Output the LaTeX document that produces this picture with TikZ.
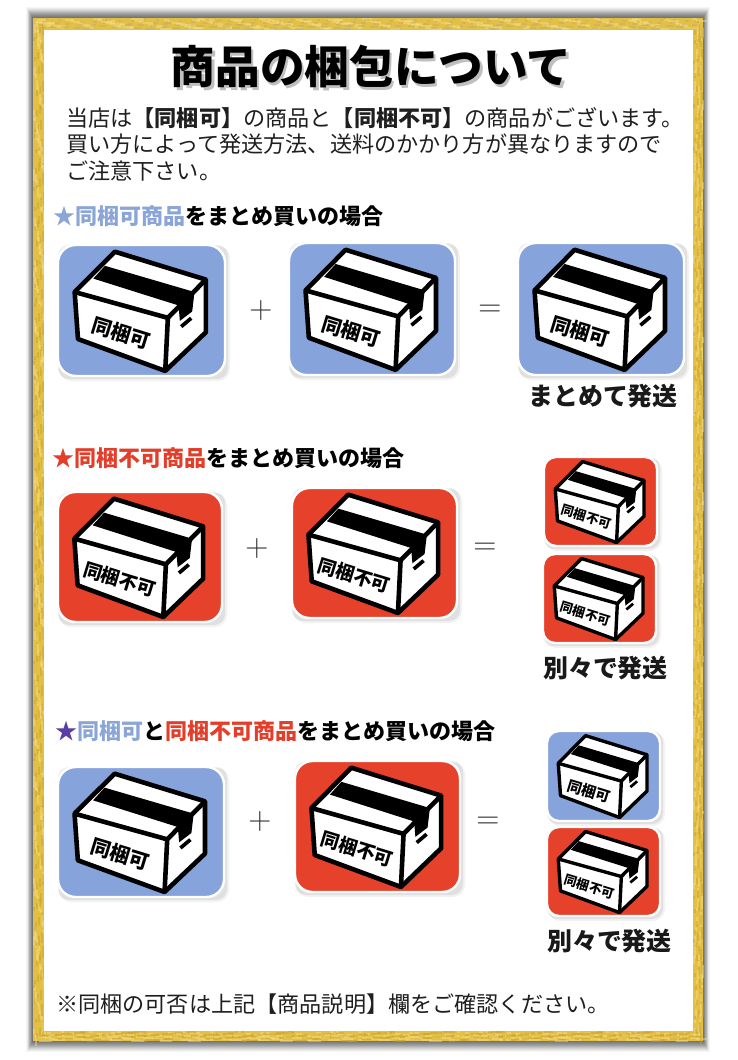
\documentclass[tikz,border=0pt]{standalone}
\usepackage{fontspec}
\newfontfamily\jp{Noto Sans CJK JP}
\definecolor{tileblue}{HTML}{86A3DB}
\definecolor{tilered}{HTML}{E5412B}
\definecolor{headblue}{HTML}{8AA5D6}
\definecolor{headred}{HTML}{E23E2A}
\definecolor{headpurple}{HTML}{5A3EA6}
\definecolor{golda}{HTML}{E3C043}
\definecolor{goldb}{HTML}{F3DF8C}
\definecolor{goldc}{HTML}{C7A02E}
\definecolor{goldd}{HTML}{BFA96E}
\newcommand{\fs}[1]{\fontsize{#1}{#1}\selectfont}
\tikzset{
  x=0.75pt,y=-0.75pt,
  bodytext/.style={font=\jp\fs{16.6},anchor=west,inner sep=0pt,text=black!88},
  headtext/.style={font=\jp\bfseries\fs{16.5},anchor=west,inner sep=0pt,text=black},
  captext/.style={font=\jp\bfseries\fs{18.7},anchor=center,inner sep=0pt,text=black!90},
  symtext/.style={font=\normalfont\fs{24},anchor=center,inner sep=0pt,text=black!80},
  fleck/.style={opacity=.45},
}
% #1 name, #2 x, #3 y, #4 width, #5 height, #6 colour, #7 label, #8 label size (pt), #9 line width (px)
\newcommand{\pkgbox}[9]{%
  \fill[black,opacity=.05,rounded corners=9pt] (#2+1,#3+1) rectangle (#2+#4+5,#3+#5+5);
  \fill[black,opacity=.07,rounded corners=8pt] (#2,#3) rectangle (#2+#4+3,#3+#5+3);
  \draw[white,line width=1.8pt,fill=#6,rounded corners=#4*0.08pt] (#2,#3) rectangle (#2+#4,#3+#5);
  \begin{scope}[shift={(#2,#3)},x={#4*0.0015pt},y={-#5*0.0019231pt},line join=round,line width=#9*0.75pt]
    \fill[white,draw=black] (171,20) -- (444,103) -- (444,260) -- (322,375) -- (60,280) -- (50,140) -- cycle;
    \draw (50,140) -- (330,217) -- (444,103);
    \draw (330,217) -- (322,375);
    \fill[black] (106,100) -- (141,62) -- (410,140) -- (403,198) -- (366,226) -- (362,180) -- cycle;
    \draw[line width=#9*0.6pt] (370,243) -- (400,218);
    \node[font=\jp\bfseries\fs{#8},rotate=-17,inner sep=0pt,text=black] (#1) at (189,262) {#7};
  \end{scope}
}
\begin{document}
\begin{tikzpicture}
\useasboundingbox (0,0) rectangle (738,1060);
\fill[white] (0,0) rectangle (738,1060);
% frame shadow
\foreach \d/\c in {11/4,10/8,9/13,8/18,7/24,6/30,5/36,4/41,3/46,2/50,1/54,0/58}{
  \fill[black!\c] (33-\d*.6,18-\d) rectangle (703+\d*.6,1041+\d);
}
% gold band
\fill[golda] (33,18) rectangle (703,1041);
\foreach \i in {1,...,200}{
  \pgfmathsetmacro\gra{mod(\i*37,331)/331}
  \pgfmathsetmacro\grb{mod(\i*23,97)/97}
  \pgfmathsetmacro\grc{mod(\i*31,61)/61}
  \pgfmathsetmacro\grd{mod(\i*41,211)/211}
  \pgfmathsetmacro\gw{3+\grc*10}
  % top band
  \fill[goldb,fleck] ({33+\gra*665},{18+\grb*10}) rectangle +(\gw,2);
  \fill[goldd,fleck] ({33+\grd*665},{18+\grc*10}) rectangle +(\gw*.7,2);
  % bottom band
  \fill[goldc,fleck] ({33+\grd*665},{1031+\grb*9}) rectangle +(\gw,2);
  \fill[goldb,fleck] ({33+\gra*665},{1031+\grc*9}) rectangle +(\gw,2);
  % left and right bands
  \fill[goldb,fleck] ({33+\grb*10},{18+\gra*1020}) rectangle +(2,\gw);
  \fill[goldc,fleck] ({33+\grc*10},{18+\grd*1020}) rectangle +(2,\gw);
  \fill[goldb,fleck] ({693+\grb*9},{18+\grd*1020}) rectangle +(2,\gw);
  \fill[goldc,fleck] ({693+\grc*9},{18+\gra*1020}) rectangle +(2,\gw);
}
\fill[white] (44,30) rectangle (693,1031);
% title
\node[font=\jp\bfseries\fs{33.5},inner sep=0pt,text=black!45,opacity=.55] (titleshadow) at (373.5,69.5) {商品の梱包について};
\node[font=\jp\bfseries\fs{33.5},inner sep=0pt,text=black] (title) at (371,67) {商品の梱包について};
% intro
\node[bodytext] (introa) at (66,118) {当店は{\bfseries 【同梱可】}の商品と{\bfseries 【同梱不可】}の商品がございます。};
\node[bodytext] (introb) at (66,144) {買い方によって発送方法、送料のかかり方が異なりますので};
\node[bodytext] (introc) at (66,171) {ご注意下さい。};
% row 1
\node[headtext] (heada) at (53,216) {\textcolor{headblue}{★同梱可商品}をまとめ買いの場合};
\pkgbox{la}{58}{245}{167}{131}{tileblue}{同梱可}{15}{4.6}
\pkgbox{lb}{289}{243}{166}{132}{tileblue}{同梱可}{15}{4.6}
\pkgbox{lc}{518}{243}{166}{132}{tileblue}{同梱可}{15}{4.6}
\node[symtext] (plusa) at (261,311) {+};
\node[symtext] (eqa) at (490,311) {=};
\node[captext] (capa) at (603,396) {まとめて発送};
% row 2
\node[headtext] (headb) at (52,458) {\textcolor{headred}{★同梱不可商品}をまとめ買いの場合};
\pkgbox{ld}{58}{492}{164}{130}{tilered}{同梱不可}{14}{4.6}
\pkgbox{le}{292}{488}{165}{130}{tilered}{同梱不可}{14}{4.6}
\pkgbox{lf}{544}{457}{113}{89}{tilered}{同梱不可}{9.6}{3.4}
\pkgbox{lg}{543}{554}{113}{89}{tilered}{同梱不可}{9.6}{3.4}
\node[symtext] (plusb) at (257,549) {+};
\node[symtext] (eqb) at (485,549) {=};
\node[captext] (capb) at (605.5,668) {別々で発送};
% row 3
\node[headtext] (headc) at (55,731) {\textcolor{headpurple}{★}\textcolor{headblue}{同梱可}と\textcolor{headred}{同梱不可商品}をまとめ買いの場合};
\pkgbox{lh}{58}{767}{166}{130}{tileblue}{同梱可}{15}{4.6}
\pkgbox{li}{295}{761}{165}{131}{tilered}{同梱不可}{14}{4.6}
\pkgbox{lj}{547}{731}{113}{90}{tileblue}{同梱可}{11}{3.4}
\pkgbox{lk}{547}{827}{113}{89}{tilered}{同梱不可}{9.6}{3.4}
\node[symtext] (plusc) at (260,822) {+};
\node[symtext] (eqc) at (488,823) {=};
\node[captext] (capc) at (609.5,941) {別々で発送};
% footer
\node[bodytext] (foot) at (56,1004) {※同梱の可否は上記【商品説明】欄をご確認ください。};
\end{tikzpicture}
\end{document}
